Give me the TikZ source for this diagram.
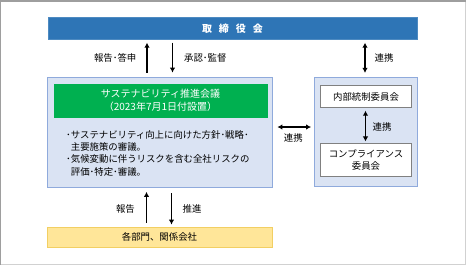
\documentclass[tikz,border=0pt]{standalone}
\usepackage{fontspec}
\setmainfont{Noto Sans CJK JP}
\usetikzlibrary{arrows.meta,positioning,calc}
\definecolor{boardblue}{HTML}{2E75B6}
\definecolor{councilgreen}{HTML}{00B050}
\definecolor{panelblue}{HTML}{DAE3F3}
\definecolor{panelline}{HTML}{8FAADC}
\definecolor{unityellow}{HTML}{FFE699}
\definecolor{unitline}{HTML}{F2CF63}
\tikzset{
  panelbox/.style={
    draw=panelline,
    fill=panelblue,
    line width=0.8pt,
    inner sep=0pt
  },
  boardbox/.style={
    draw=boardblue!85,
    fill=boardblue,
    text=white,
    line width=0.8pt,
    minimum width=369pt,
    minimum height=22pt,
    inner sep=0pt,
    font=\fontsize{10}{12}\selectfont\bfseries
  },
  titlebox/.style={
    fill=councilgreen,
    text=white,
    align=center,
    minimum width=214pt,
    minimum height=34pt,
    inner sep=0pt,
    font=\fontsize{10}{12.6}\selectfont
  },
  memberbox/.style={
    draw=black!50,
    fill=white,
    align=center,
    line width=0.8pt,
    minimum width=91pt,
    inner sep=0pt,
    font=\fontsize{9.4}{12.2}\selectfont
  },
  unitbox/.style={
    draw=unitline,
    fill=unityellow,
    line width=0.8pt,
    minimum width=225pt,
    minimum height=20pt,
    inner sep=0pt,
    font=\fontsize{9.4}{12.2}\selectfont
  },
  lbl/.style={font=\fontsize{9.4}{12.2}\selectfont,inner sep=0pt},
  flowarrow/.style={-{Latex[length=5pt,width=5.5pt]},line width=1.3pt},
  botharrow/.style={{Latex[length=5pt,width=5.5pt]}-{Latex[length=5pt,width=5.5pt]},line width=1.3pt}
}

\begin{document}
\begin{tikzpicture}[x=1pt,y=-1pt]
  \useasboundingbox (0,0) rectangle (467,266);
  % frame
  \draw[black!18,line width=1.2pt] (465.6,0.8) -- (465.6,264.8) -- (0.8,264.8);
  \draw[black!38,line width=1.4pt] (0.8,264.8) -- (0.8,0.8) -- (465.6,0.8);

  \node[boardbox] (board) at (232.5,28.3)
    {取\hspace{0.7em}締\hspace{0.7em}役\hspace{0.7em}会};
  \node[panelbox,minimum width=225pt,minimum height=110pt] (council) at (159.5,132) {};
  \node[titlebox] (title) at (160.5,100.5)
    {サステナビリティ推進会議\\（2023年7月1日付設置）};
  \node[lbl,anchor=west,align=left] (duties) at (66,153.3)
    {･サステナビリティ向上に向けた方針･戦略･\\\phantom{･}主要施策の審議。\\
     ･気候変動に伴うリスクを含む全社リスクの\\\phantom{･}評価･特定･審議。};
  \node[panelbox,minimum width=103pt,minimum height=109.4pt] (side) at (366,132) {};
  \node[memberbox,minimum height=21.6pt] (internal) at (366,96.5) {内部統制委員会};
  \node[memberbox,minimum height=32.7pt] (compliance) at (366,159.7)
    {コンプライアンス\\委員会};
  \node[unitbox] (units) at (159.5,237) {各部門、関係会社};

  % board <-> council
  \draw[flowarrow,shorten <=4pt,shorten >=3pt] ([xshift=-12.5pt]council.north)
    -- node[lbl,midway,left=10pt]{報告･答申} ([xshift=-12.5pt]council.north |- board.south);
  \draw[flowarrow,shorten <=3pt,shorten >=4pt] ([xshift=13pt]council.north |- board.south)
    -- node[lbl,midway,right=11pt]{承認･監督} ([xshift=13pt]council.north);
  \draw[botharrow,shorten <=4pt,shorten >=3pt] ([xshift=-1pt]side.north)
    -- node[lbl,midway,right=9pt]{連携} ([xshift=-1pt]side.north |- board.south);

  % council <-> side
  \draw[botharrow,shorten <=5pt,shorten >=3pt] ([yshift=5pt]council.east)
    -- node[lbl,midway,below=6pt]{連携} ([yshift=5pt]council.east -| side.west);
  \draw[botharrow,shorten <=3pt,shorten >=1.5pt] ([xshift=-0.5pt]internal.south)
    -- node[lbl,midway,right=6.5pt,yshift=-2pt]{連携} ([xshift=-0.5pt]internal.south |- compliance.north);

  % council <-> units
  \draw[flowarrow,shorten <=4pt,shorten >=4.5pt] ([xshift=-13pt]units.north)
    -- node[lbl,midway,left=11pt,yshift=-2pt]{報告} ([xshift=-13pt]units.north |- council.south);
  \draw[flowarrow,shorten <=6pt,shorten >=2pt] ([xshift=12pt]units.north |- council.south)
    -- node[lbl,midway,right=10.5pt,yshift=-2pt]{推進} ([xshift=12pt]units.north);
\end{tikzpicture}
\end{document}
